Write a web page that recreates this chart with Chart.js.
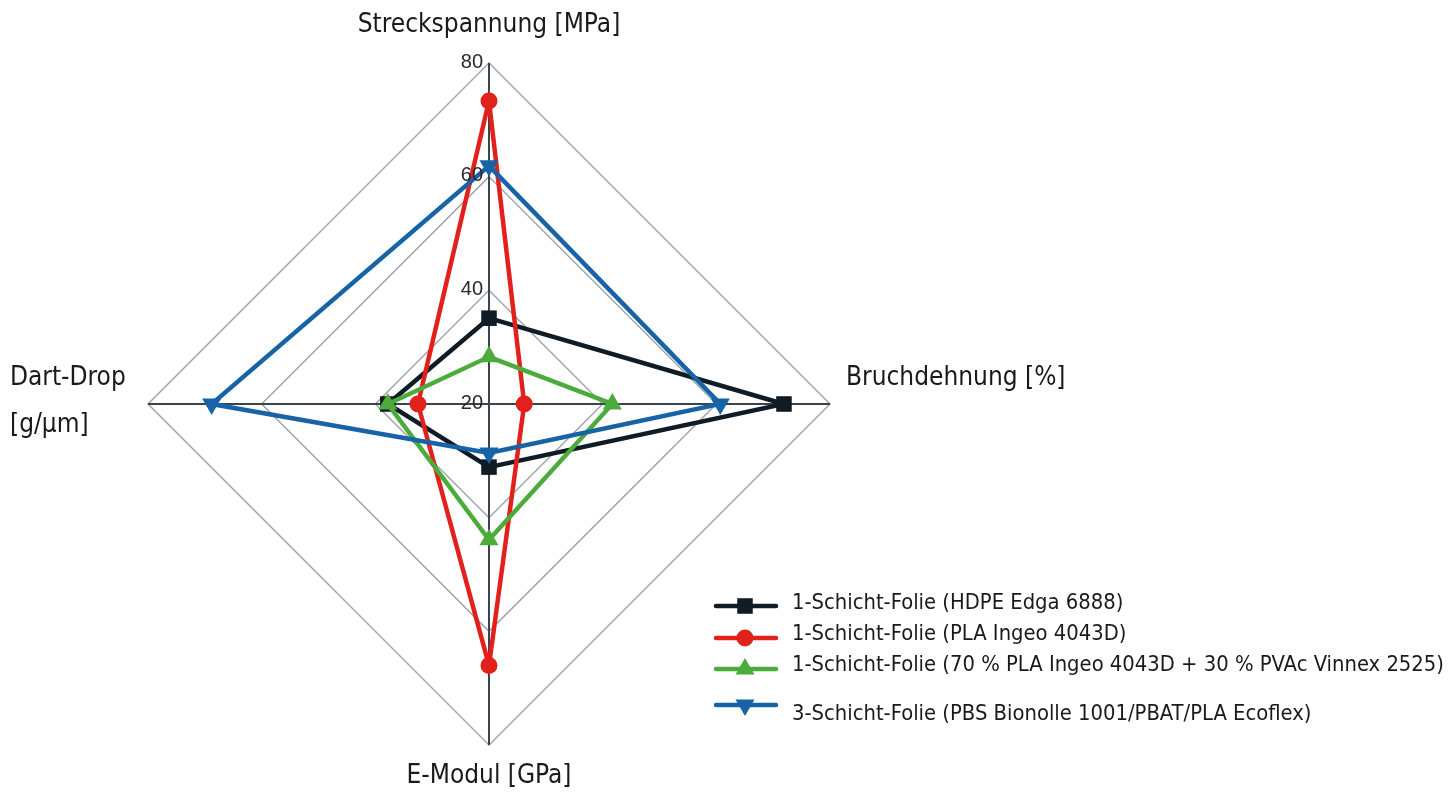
<!DOCTYPE html>
<html>
<head>
<meta charset="utf-8">
<title>Folieneigenschaften</title>
<script src="https://cdn.jsdelivr.net/npm/chart.js@4.4.1/dist/chart.umd.min.js"></script>
<style>
  html, body { margin: 0; padding: 0; background: #fff; }
  #wrap { width: 1453px; height: 792px; position: relative; }
</style>
</head>
<body>
<div id="wrap"><canvas id="myChart" width="1453" height="792"></canvas></div>
<script>
// Axis labels (clockwise from top)
const axes = ['Streckspannung [MPa]', 'Bruchdehnung [%]', 'E-Modul [GPa]', ['Dart-Drop', '[g/µm]']];
const tickValues = [20, 40, 60, 80];

// Series values
const seriesNames = [
    '1-Schicht-Folie (HDPE Edga 6888)',
    '1-Schicht-Folie (PLA Ingeo 4043D)',
    '1-Schicht-Folie (70 % PLA Ingeo 4043D + 30 % PVAc Vinnex 2525)',
    '3-Schicht-Folie (PBS Bionolle 1001/PBAT/PLA Ecoflex)'
];
const hdpe = [35.1, 71.9, 31.1, 37.8];
const pla = [73.3, 26.2, 66.0, 32.5];
const plaPvac = [28.3, 41.7, 43.9, 37.8];
const dreiSchicht = [61.9, 60.7, 28.6, 68.8];

const colors = ['#0f1c26', '#e2211c', '#4bab3b', '#1763a6'];
const labelFont = "'Liberation Sans Narrow', 'DejaVu Sans Condensed', sans-serif";

const seriesValues = [hdpe, pla, plaPvac, dreiSchicht];
const styles = [
    { pointStyle: 'rect', radius: 11, rotation: 0 },
    { pointStyle: 'circle', radius: 8.5, rotation: 0 },
    { pointStyle: 'triangle', radius: 11, rotation: 0 },
    { pointStyle: 'triangle', radius: 11, rotation: 180 }
];

const datasets = seriesValues.map((vals, i) => ({
    label: seriesNames[i],
    data: vals,
    borderColor: colors[i],
    backgroundColor: colors[i],
    borderWidth: 4.5,
    fill: false,
    pointStyle: styles[i].pointStyle,
    pointRadius: styles[i].radius,
    pointRotation: styles[i].rotation,
    pointBorderWidth: 0,
    pointBackgroundColor: colors[i],
    order: 4 - i
}));

// Draws axis titles, tick numbers and the legend
const decorations = {
    id: 'decorations',
    afterDraw(chart) {
        const ctx = chart.ctx;
        const r = chart.scales.r;
        const cx = r.xCenter, cy = r.yCenter, rad = r.drawingArea;
        ctx.save();

        // tick numbers, left of the vertical axis
        ctx.font = "20px 'Liberation Sans', Arial, sans-serif";
        ctx.fillStyle = '#2a2a2a';
        ctx.textAlign = 'right';
        ctx.textBaseline = 'middle';
        tickValues.forEach(v => {
            const d = r.getDistanceFromCenterForValue(v);
            ctx.fillText(String(v), cx - 6, cy - d - 1);
        });

        // axis titles
        ctx.font = '26px ' + labelFont;
        ctx.fillStyle = '#1a1a1a';
        ctx.textBaseline = 'middle';
        ctx.textAlign = 'center';
        ctx.fillText(axes[0], cx, cy - rad - 38);
        ctx.fillText(axes[2], cx, cy + rad + 31);
        ctx.textAlign = 'left';
        ctx.fillText(axes[1], cx + rad + 16, cy - 26);
        ctx.fillText(axes[3][0], 10, cy - 26);
        ctx.fillText(axes[3][1], 10, cy + 21);

        // legend
        const lineY = [606, 638, 669, 705];
        const textY = [603, 634, 665, 714];
        ctx.font = '21.8px ' + labelFont;
        ctx.textAlign = 'left';
        datasets.forEach((ds, i) => {
            const y = lineY[i];
            ctx.strokeStyle = ds.borderColor;
            ctx.lineWidth = 4.5;
            ctx.lineCap = 'round';
            ctx.beginPath();
            ctx.moveTo(716, y);
            ctx.lineTo(776, y);
            ctx.stroke();
            ctx.fillStyle = ds.backgroundColor;
            Chart.helpers.drawPoint(ctx, {
                pointStyle: ds.pointStyle,
                radius: ds.pointRadius,
                rotation: ds.pointRotation,
                borderWidth: 0
            }, 745, y);
            ctx.fillStyle = '#1a1a1a';
            ctx.fillText(ds.label, 792, textY[i]);
        });
        ctx.restore();
    }
};

const ctx = document.getElementById('myChart').getContext('2d');
const myChart = new Chart(ctx, {
    type: 'radar',
    data: {
        labels: axes,
        datasets: datasets
    },
    options: {
        responsive: false,
        animation: false,
        layout: {
            padding: { left: 148, right: 623, top: 63, bottom: 47 }
        },
        plugins: {
            legend: { display: false },
            tooltip: { enabled: false }
        },
        scales: {
            r: {
                min: 20,
                max: 80,
                ticks: { stepSize: 20, display: false },
                pointLabels: { display: false },
                grid: { circular: false, color: '#a3a7ab', lineWidth: 1.5 },
                angleLines: { color: '#39444e', lineWidth: 2 }
            }
        },
        elements: {
            line: { tension: 0 }
        }
    },
    plugins: [decorations]
});
</script>
</body>
</html>
